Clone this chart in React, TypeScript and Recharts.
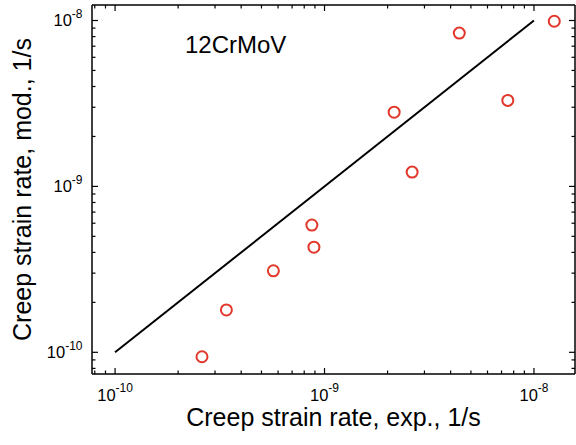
import { Customized, Scatter, ScatterChart, XAxis, YAxis } from "recharts";

// measured creep strain rate (exp.) vs. model prediction (mod.), 1/s
const expRate = [2.6e-10, 3.4e-10, 5.7e-10, 8.7e-10, 8.9e-10, 2.15e-9, 2.62e-9, 4.4e-9, 7.5e-9, 1.25e-8];
const modRate = [9.4e-11, 1.8e-10, 3.1e-10, 5.85e-10, 4.3e-10, 2.8e-9, 1.22e-9, 8.4e-9, 3.3e-9, 9.9e-9];

// 1:1 line
const parityX = [1e-10, 1e-8];
const parityY = [1e-10, 1e-8];

const xDomain = [7.76e-11, 1.57e-8];
const yDomain = [7.4e-11, 1.24e-8];

const majorTicks = [1e-10, 1e-9, 1e-8];
const majorLabels = ["-10", "-9", "-8"];
const xTicks = [
  8e-11, 9e-11, 1e-10, 2e-10, 3e-10, 4e-10, 5e-10, 6e-10, 7e-10, 8e-10, 9e-10,
  1e-9, 2e-9, 3e-9, 4e-9, 5e-9, 6e-9, 7e-9, 8e-9, 9e-9, 1e-8,
];
const yTicks = xTicks;

const points = expRate.map((x, i) => ({ x, y: modRate[i] }));
const parity = parityX.map((x, i) => ({ x, y: parityY[i] }));

const FONT = "'Liberation Sans', Arial, Helvetica, sans-serif";
const RED = "#e2382b";

const majorIndex = (v: number) => majorTicks.findIndex((m) => Math.abs(v / m - 1) < 1e-6);

// inward ticks; labels (10^n) only on the bottom / left axes
function Tick(props: any) {
  const { x, y, payload, side } = props;
  const mi = majorIndex(payload.value);
  const len = mi >= 0 ? 6 : 3.5;
  const line =
    side === "bottom" ? [x, y, x, y - len]
    : side === "top" ? [x, y, x, y + len]
    : side === "left" ? [x, y, x + len, y]
    : [x, y, x - len, y];
  return (
    <g>
      <line x1={line[0]} y1={line[1]} x2={line[2]} y2={line[3]} stroke="#000" strokeWidth={1.2} />
      {mi >= 0 && side === "bottom" && (
        <text x={x} y={y + 26.5} textAnchor="middle" fontFamily={FONT} fontSize={16.5} fill="#000">
          10<tspan dy={-9} fontSize={12}>{majorLabels[mi]}</tspan>
        </text>
      )}
      {mi >= 0 && side === "left" && (
        <text x={x - 9.5} y={y + 6} textAnchor="end" fontFamily={FONT} fontSize={16.5} fill="#000">
          10<tspan dy={-8.5} fontSize={12}>{majorLabels[mi]}</tspan>
        </text>
      )}
    </g>
  );
}

const axisLine = { stroke: "#000", strokeWidth: 1.5 };

export default function App() {
  return (
    <div style={{ position: "absolute", left: 0, top: 0, background: "#fff" }}>
      <ScatterChart width={576} height={445} margin={{ top: 0, right: 0, bottom: 0, left: 0 }}>
        <XAxis
          xAxisId="b"
          dataKey="x"
          type="number"
          scale="log"
          domain={xDomain}
          allowDataOverflow
          ticks={xTicks}
          interval={0}
          height={71}
          tickSize={0}
          tickMargin={0}
          tickLine={false}
          axisLine={axisLine}
          tick={<Tick side="bottom" />}
          label={{
            content: ({ viewBox }: any) => (
              <text
                x={viewBox.x + viewBox.width / 2}
                y={viewBox.y + 52}
                textAnchor="middle"
                fontFamily={FONT}
                fontSize={25}
                fill="#000"
              >
                Creep strain rate, exp., 1/s
              </text>
            ),
          }}
        />
        <XAxis
          xAxisId="t"
          orientation="top"
          dataKey="x"
          type="number"
          scale="log"
          domain={xDomain}
          allowDataOverflow
          ticks={xTicks}
          interval={0}
          height={5}
          tickSize={0}
          tickMargin={0}
          tickLine={false}
          axisLine={axisLine}
          tick={<Tick side="top" />}
        />
        <YAxis
          yAxisId="l"
          dataKey="y"
          type="number"
          scale="log"
          domain={yDomain}
          allowDataOverflow
          ticks={yTicks}
          interval={0}
          width={92}
          tickSize={0}
          tickMargin={0}
          tickLine={false}
          axisLine={axisLine}
          tick={<Tick side="left" />}
          label={{
            content: ({ viewBox }: any) => {
              const cx = viewBox.x + 31;
              const cy = viewBox.y + viewBox.height / 2;
              return (
                <text
                  x={cx}
                  y={cy}
                  transform={`rotate(-90, ${cx}, ${cy})`}
                  textAnchor="middle"
                  fontFamily={FONT}
                  fontSize={25}
                  fill="#000"
                >
                  Creep strain rate, mod., 1/s
                </text>
              );
            },
          }}
        />
        <YAxis
          yAxisId="r"
          orientation="right"
          dataKey="y"
          type="number"
          scale="log"
          domain={yDomain}
          allowDataOverflow
          ticks={yTicks}
          interval={0}
          width={1}
          tickSize={0}
          tickMargin={0}
          tickLine={false}
          axisLine={axisLine}
          tick={<Tick side="right" />}
        />
        <Scatter
          xAxisId="b"
          yAxisId="l"
          data={parity}
          isAnimationActive={false}
          line={{ stroke: "#000", strokeWidth: 2 }}
          shape={() => <g />}
        />
        <Scatter
          xAxisId="b"
          yAxisId="l"
          data={points}
          isAnimationActive={false}
          shape={(p: any) => (
            <circle cx={p.cx} cy={p.cy} r={5.5} fill="none" stroke={RED} strokeWidth={2} />
          )}
        />
        <Scatter xAxisId="t" yAxisId="r" data={parity} isAnimationActive={false} shape={() => <g />} />
        <Customized
          component={() => (
            <text x={185} y={53} fontFamily={FONT} fontSize={24} fill="#000">
              12CrMoV
            </text>
          )}
        />
      </ScatterChart>
    </div>
  );
}
